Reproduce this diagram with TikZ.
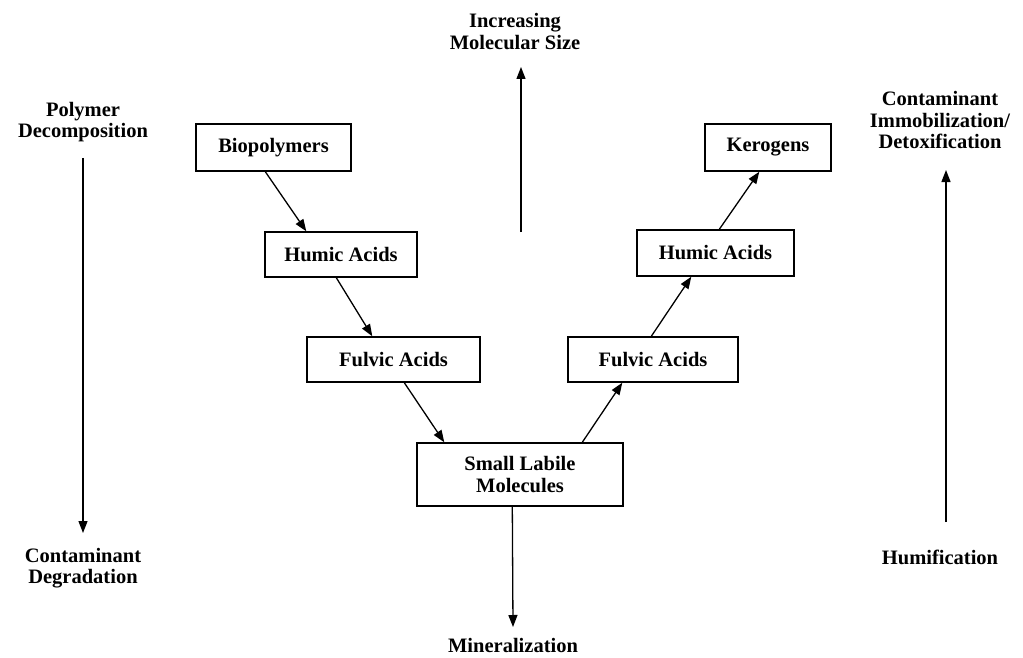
\documentclass[tikz,border=0pt]{standalone}
\usepackage{fontspec}
\setmainfont{Liberation Serif}
\usetikzlibrary{arrows.meta,calc}
\newcommand{\lblfont}{\bfseries\fontsize{20.5}{21.5}\selectfont}
\begin{document}
\begin{tikzpicture}[x=1pt,y=-1pt,
  box/.style={draw, line width=1.4pt, inner sep=0pt, font=\lblfont, align=center},
  lbl/.style={inner sep=0pt, font=\lblfont, align=center},
  arr/.style={line width=1.3pt, -{Triangle[length=12pt,width=9pt]}}]
\useasboundingbox[fill=white] (0,0) rectangle (1023,658);
% boxes
\node[box, minimum width=155pt, minimum height=47pt] (bio)  at (273.5,147.5) {Biopolymers};
\node[box, minimum width=152pt, minimum height=45pt] (humL) at (341,254.5) {Humic Acids};
\node[box, minimum width=173pt, minimum height=45pt] (fulL) at (393.5,359.5) {Fulvic Acids};
\node[box, minimum width=206pt, minimum height=63pt] (small) at (520,474.5) {Small Labile\\Molecules};
\node[box, minimum width=170pt, minimum height=45pt] (fulR) at (653,359.5) {Fulvic Acids};
\node[box, minimum width=157pt, minimum height=46pt] (humR) at (715.5,253) {Humic Acids};
\node[box, minimum width=126pt, minimum height=47pt] (ker)  at (768,147.5) {Kerogens};
% labels
\node[lbl] (poly) at (83,122) {Polymer\\Decomposition};
\node[lbl] (cdeg) at (83,568) {Contaminant\\Degradation};
\node[lbl] (incr) at (515,31.5) {Increasing\\Molecular Size};
\node[lbl] (cimm) at (940,120) {Contaminant\\Immobilization/\\Detoxification};
\node[lbl] (humi) at (940,557) {Humification};
\node[lbl] (mine) at (513,645) {Mineralization};
% free ends
\coordinate (pa) at (83,158);
\coordinate (pb) at (83,533);
\coordinate (ia) at (521,232);
\coordinate (ib) at (521,67);
\coordinate (ha) at (946,522);
\coordinate (hb) at (946,170);
\coordinate (mb) at (513,627);
% side arrows
\draw[arr] (pa) -- (pb);
\draw[arr] (ia) -- (ib);
\draw[arr] (ha) -- (hb);
% flow arrows
\draw[arr] ($(bio.south west)+(70,0)$) -- ($(humL.north west)+(42,0)$);
\draw[arr] ($(humL.south west)+(72,0)$) -- ($(fulL.north west)+(66,0)$);
\draw[arr] ($(fulL.south west)+(98,0)$) -- ($(small.north west)+(28,0)$);
\draw[arr] ($(small.north west)+(166,0)$) -- ($(fulR.south west)+(55,0)$);
\draw[arr] ($(fulR.north west)+(84,0)$) -- ($(humR.south west)+(55,0)$);
\draw[arr] ($(humR.north west)+(83,0)$) -- ($(ker.south west)+(55,0)$);
\draw[arr] ($(small.south west)+(96,0)$) -- (mb);
\end{tikzpicture}
\end{document}
